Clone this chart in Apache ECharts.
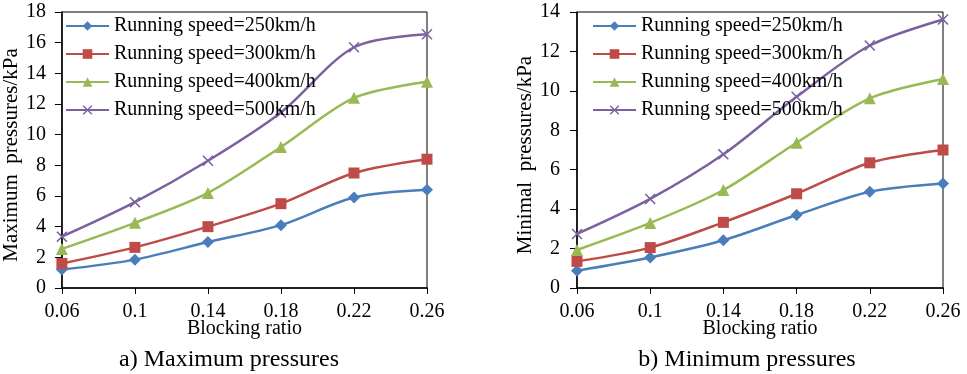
<!DOCTYPE html>
<html>
<head>
<meta charset="utf-8">
<script src="https://cdn.jsdelivr.net/npm/echarts@6/dist/echarts.min.js"></script>
<style>
  html, body { margin: 0; padding: 0; background: #fff; }
  #main { width: 967px; height: 374px; }
</style>
</head>
<body>
<div id="main"></div>
<script>
// blocking ratio categories
var ratios = ['0.06', '0.1', '0.14', '0.18', '0.22', '0.26'];
var speedNames = ['Running speed=250km/h', 'Running speed=300km/h', 'Running speed=400km/h', 'Running speed=500km/h'];

// a) max pressures (kPa)
var max250 = [1.2, 1.85, 3.0, 4.1, 5.9, 6.4];
var max300 = [1.6, 2.65, 4.0, 5.5, 7.5, 8.4];
var max400 = [2.55, 4.25, 6.2, 9.2, 12.4, 13.45];
var max500 = [3.35, 5.6, 8.3, 11.45, 15.7, 16.55];

// b) min pressures (kPa)
var min250 = [0.88, 1.55, 2.42, 3.7, 4.88, 5.3];
var min300 = [1.35, 2.05, 3.33, 4.78, 6.35, 7.0];
var min400 = [1.93, 3.3, 4.97, 7.37, 9.62, 10.6];
var min500 = [2.74, 4.52, 6.78, 9.7, 12.3, 13.62];

var colors = ['#4A7EBB', '#BE4B48', '#98B954', '#7D60A0'];
var symbols = ['diamond', 'rect', 'triangle',
  'path://M0,1L1,0L5,4L9,0L10,1L6,5L10,9L9,10L5,6L1,10L0,9L4,5Z'];
var symSizes = [12, 11, 12, 11];
var font = '"Liberation Serif", "Times New Roman", serif';

var myChart = echarts.init(document.getElementById('main'));

function mkSeries(data, gi) {
  var list = [];
  for (var i = 0; i < 4; i++) {
    list.push({
      name: speedNames[i],
      type: 'line',
      smooth: 0.3,
      xAxisIndex: gi,
      yAxisIndex: gi,
      symbol: symbols[i],
      symbolSize: symSizes[i],
      showAllSymbol: true,
      lineStyle: { color: colors[i], width: 2.5 },
      itemStyle: { color: colors[i] },
      data: data[i]
    });
  }
  return list;
}

function mkX(gi) {
  return {
    type: 'category',
    gridIndex: gi,
    data: ratios,
    boundaryGap: false,
    name: 'Blocking ratio',
    nameLocation: 'middle',
    nameGap: 31,
    nameMoveOverlap: false,
    nameTextStyle: { fontFamily: font, fontSize: 20, color: '#000' },
    axisLine: { lineStyle: { color: '#000', width: 1.5 } },
    axisTick: { show: true, length: 6, lineStyle: { color: '#000' } },
    axisLabel: { fontFamily: font, fontSize: 20, color: '#000', margin: 14 },
    splitLine: { show: false }
  };
}

function mkY(gi, max, name, gap, margin) {
  return {
    type: 'value',
    gridIndex: gi,
    min: 0,
    max: max,
    interval: 2,
    name: name,
    nameLocation: 'middle',
    nameRotate: 90,
    nameGap: gap,
    nameTextStyle: { fontFamily: font, fontSize: 21, color: '#000', padding: [0, 10, 0, 0] },
    axisLine: { show: true, lineStyle: { color: '#000', width: 1.5 } },
    axisTick: { show: true, length: 7, lineStyle: { color: '#000' } },
    axisLabel: { fontFamily: font, fontSize: 20, color: '#000', margin: margin },
    splitLine: { show: false }
  };
}

function mkLegend(left) {
  return {
    orient: 'vertical',
    left: left,
    top: 11,
    itemWidth: 43,
    itemHeight: 12,
    itemGap: 8,
    data: speedNames.map(function (n) { return { name: n }; }),
    textStyle: { fontFamily: font, fontSize: 20, color: '#000' }
  };
}

var option = {
  backgroundColor: '#fff',
  animation: false,
  title: [
    { text: 'a) Maximum pressures', left: 224, top: 343, textAlign: 'center',
      textStyle: { fontFamily: font, fontSize: 24, fontWeight: 'normal', color: '#000' } },
    { text: 'b) Minimum pressures', left: 742, top: 343, textAlign: 'center',
      textStyle: { fontFamily: font, fontSize: 24, fontWeight: 'normal', color: '#000' } }
  ],
  legend: [mkLegend(60), mkLegend(587)],
  grid: [
    { left: 60, width: 367, top: 12, height: 276, show: true, borderColor: '#000', borderWidth: 1 },
    { left: 577, width: 366, top: 12, height: 276, show: true, borderColor: '#000', borderWidth: 1 }
  ],
  xAxis: [mkX(0), mkX(1)],
  yAxis: [mkY(0, 18, 'Maximum  pressures/kPa', 34, 16), mkY(1, 14, 'Minimal  pressures/kPa', 31, 17)],
  series: mkSeries([max250, max300, max400, max500], 0)
    .concat(mkSeries([min250, min300, min400, min500], 1))
};

myChart.setOption(option);
</script>
</body>
</html>
